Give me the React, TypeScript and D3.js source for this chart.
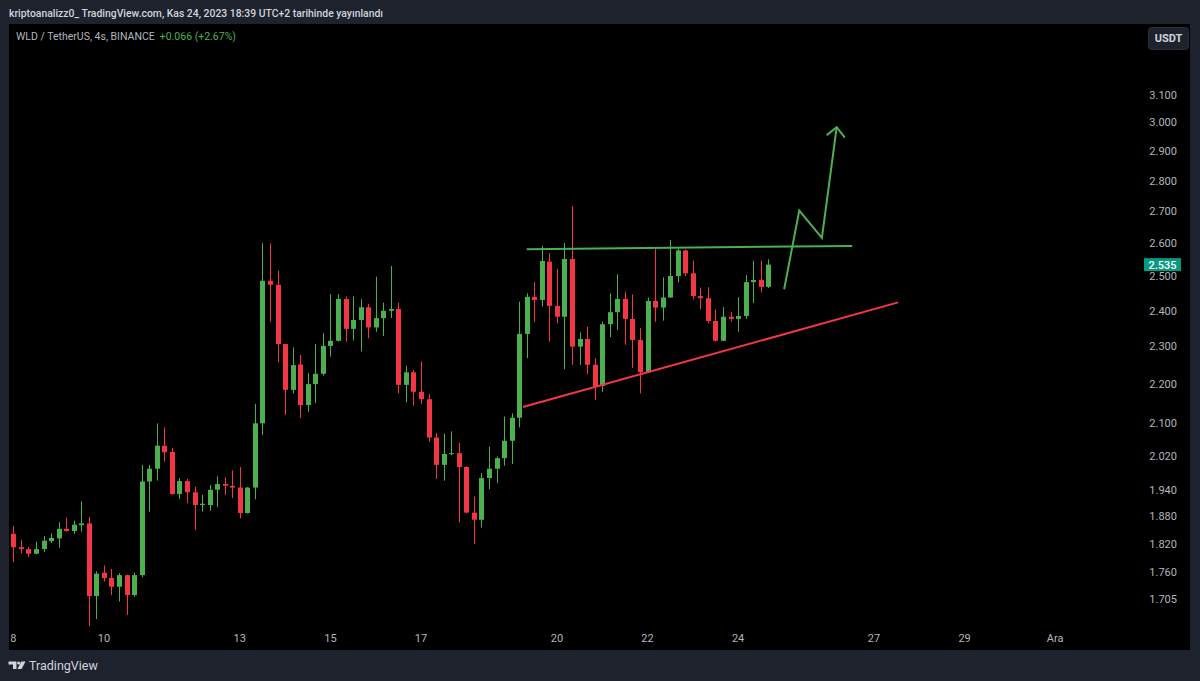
import React from "react";
import * as d3 from "d3";

// ---- Data (4h candles, WLD/USDT, starting 8 Nov 2023 00:00, chart time) ----
const OPEN = [
  1.842, 1.813, 1.809, 1.799, 1.809, 1.826, 1.832, 1.853, 1.848, 1.861,
  1.865, 1.711, 1.759, 1.748, 1.730, 1.754, 1.713, 1.754, 1.960, 1.990,
  2.045, 2.030, 1.931, 1.961, 1.935, 1.906, 1.906, 1.941, 1.954, 1.950,
  1.946, 1.888, 1.946, 2.100, 2.487, 2.475, 2.307, 2.185, 2.252, 2.146,
  2.200, 2.227, 2.302, 2.316, 2.434, 2.349, 2.374, 2.410, 2.353, 2.379,
  2.400, 2.405, 2.198, 2.231, 2.180, 2.161, 2.065, 1.999, 2.025, 2.027,
  1.994, 1.889, 1.873, 1.968, 1.990, 2.015, 2.057, 2.114, 2.335, 2.440,
  2.431, 2.544, 2.414, 2.383, 2.552, 2.300, 2.321, 2.251, 2.195, 2.362,
  2.396, 2.434, 2.377, 2.318, 2.231, 2.428, 2.409, 2.438, 2.501, 2.578,
  2.509, 2.442, 2.436, 2.371, 2.316, 2.383, 2.377, 2.385, 2.483, 2.489,
  2.469,
];
const HIGH = [
  1.859, 1.829, 1.814, 1.825, 1.837, 1.843, 1.868, 1.878, 1.871, 1.914,
  1.879, 1.762, 1.774, 1.767, 1.758, 1.755, 1.759, 1.999, 1.999, 2.100,
  2.090, 2.040, 1.968, 1.966, 1.948, 1.929, 1.952, 1.972, 1.970, 1.986,
  1.994, 1.947, 2.149, 2.600, 2.600, 2.517, 2.308, 2.298, 2.278, 2.229,
  2.307, 2.337, 2.448, 2.448, 2.441, 2.441, 2.433, 2.420, 2.499, 2.423,
  2.531, 2.423, 2.248, 2.237, 2.260, 2.174, 2.076, 2.074, 2.080, 2.052,
  1.996, 1.925, 1.980, 2.043, 2.019, 2.117, 2.125, 2.426, 2.450, 2.483,
  2.592, 2.570, 2.522, 2.601, 2.718, 2.339, 2.355, 2.269, 2.369, 2.450,
  2.506, 2.455, 2.447, 2.351, 2.438, 2.582, 2.497, 2.610, 2.584, 2.581,
  2.547, 2.467, 2.468, 2.404, 2.410, 2.397, 2.439, 2.504, 2.547, 2.547,
  2.551,
];
const LOW = [
  1.781, 1.800, 1.792, 1.798, 1.803, 1.822, 1.812, 1.847, 1.842, 1.847,
  1.651, 1.665, 1.741, 1.713, 1.700, 1.673, 1.710, 1.750, 1.891, 1.962,
  2.007, 1.930, 1.920, 1.910, 1.850, 1.891, 1.893, 1.901, 1.929, 1.922,
  1.876, 1.887, 1.919, 2.071, 2.369, 2.258, 2.121, 2.176, 2.113, 2.129,
  2.151, 2.222, 2.273, 2.314, 2.314, 2.317, 2.287, 2.323, 2.341, 2.329,
  2.379, 2.176, 2.153, 2.145, 2.149, 2.055, 1.966, 1.962, 2.022, 1.867,
  1.887, 1.820, 1.856, 1.942, 1.956, 1.997, 2.001, 2.090, 2.269, 2.369,
  2.412, 2.314, 2.365, 2.239, 2.251, 2.251, 2.226, 2.159, 2.180, 2.326,
  2.346, 2.305, 2.243, 2.176, 2.229, 2.369, 2.372, 2.437, 2.482, 2.501,
  2.433, 2.404, 2.365, 2.314, 2.315, 2.369, 2.341, 2.377, 2.422, 2.453,
  2.466,
];
const CLOSE = [
  1.813, 1.809, 1.799, 1.809, 1.827, 1.833, 1.853, 1.848, 1.862, 1.865,
  1.711, 1.757, 1.748, 1.730, 1.754, 1.713, 1.754, 1.960, 1.990, 2.045,
  2.029, 1.931, 1.961, 1.935, 1.906, 1.909, 1.941, 1.954, 1.950, 1.946,
  1.888, 1.946, 2.100, 2.487, 2.475, 2.307, 2.185, 2.250, 2.146, 2.200,
  2.227, 2.302, 2.316, 2.434, 2.349, 2.374, 2.410, 2.353, 2.379, 2.400,
  2.405, 2.198, 2.231, 2.180, 2.161, 2.065, 1.999, 2.025, 2.027, 1.994,
  1.889, 1.873, 1.968, 1.990, 2.015, 2.057, 2.114, 2.335, 2.440, 2.431,
  2.546, 2.414, 2.383, 2.552, 2.300, 2.321, 2.251, 2.195, 2.362, 2.396,
  2.434, 2.377, 2.318, 2.231, 2.428, 2.409, 2.438, 2.501, 2.578, 2.509,
  2.442, 2.436, 2.371, 2.316, 2.383, 2.377, 2.385, 2.483, 2.489, 2.469,
  2.535,
];

const START_MS = Date.UTC(2023, 10, 8, 0, 0);
const BAR_MS = 4 * 3600 * 1000;

const X_TICK_DATES = [
  "2023-11-08", "2023-11-10", "2023-11-13", "2023-11-15", "2023-11-17",
  "2023-11-20", "2023-11-22", "2023-11-24", "2023-11-27", "2023-11-29", "2023-12-01",
];
const X_TICK_LABELS = ["8", "10", "13", "15", "17", "20", "22", "24", "27", "29", "Ara"];
const Y_TICKS = [3.1, 3.0, 2.9, 2.8, 2.7, 2.6, 2.5, 2.4, 2.3, 2.2, 2.1, 2.02, 1.94, 1.88, 1.82, 1.76, 1.705];

const LAST_PRICE = 2.535;
const CHANGE_TEXT = "+0.066 (+2.67%)";

// drawings: [bar index, price]
const RESISTANCE: [number, number][] = [[68.0, 2.582], [111.1, 2.592]];
const SUPPORT: [number, number][] = [[67.5, 2.141], [117.2, 2.424]];
const PROJECTION: [number, number][] = [[102.1, 2.462], [104.1, 2.703], [107.1, 2.617], [109.06, 2.984]];
const ARROW_HEAD: [number, number][] = [[107.74, 2.956], [109.06, 2.984], [110.13, 2.947]];

const UP = "#4caf50";
const DOWN = "#f23645";
const AXIS_TEXT = "#b2b5be";
const FONT = "Roboto, 'Open Sans', sans-serif";

export default function App() {
  const W = 1200;
  const H = 681;
  const panel = { x: 9, y: 24, w: 1181, h: 626 };

  const barTime = (i: number) => new Date(START_MS + i * BAR_MS);
  const x = d3
    .scaleUtc()
    .domain([new Date(START_MS), new Date(Date.UTC(2023, 11, 1))])
    .range([13.3, 1055.2]);
  const y = d3.scaleLog().domain([1.705, 3.1]).range([599, 95]);

  const bx = (i: number) => x(barTime(i));
  const line = d3
    .line<[number, number]>()
    .x((d) => bx(d[0]))
    .y((d) => y(d[1]));

  const bodyW = 5;

  return (
    <svg width={W} height={H} style={{ display: "block", position: "absolute", left: 0, top: 0 }}>
      <rect x={0} y={0} width={W} height={H} fill="#1e222d" />
      <text x={9} y={17} fill="#d1d4dc" fontFamily={FONT} fontSize={11} fontWeight={500} textLength={374} lengthAdjust="spacingAndGlyphs">
        kriptoanalizz0_ TradingView.com, Kas 24, 2023 18:39 UTC+2 tarihinde yayınlandı
      </text>
      <rect x={panel.x} y={panel.y} width={panel.w} height={panel.h} fill="#000000" />
      <defs>
        <clipPath id="plotclip">
          <rect x={panel.x} y={panel.y} width={1135} height={panel.h - 22} />
        </clipPath>
      </defs>

      <g clipPath="url(#plotclip)">
        {CLOSE.map((c, i) => {
          const o = OPEN[i];
          const up = c >= o;
          const col = up ? UP : DOWN;
          const cx = Math.round(bx(i));
          const yTop = y(Math.max(o, c));
          const yBot = y(Math.min(o, c));
          return (
            <g key={i}>
              <line x1={cx + 0.5} x2={cx + 0.5} y1={y(HIGH[i])} y2={y(LOW[i])} stroke={col} strokeWidth={1} />
              <rect x={cx - 2} y={yTop} width={bodyW} height={Math.max(1, yBot - yTop)} fill={col} />
            </g>
          );
        })}
        <path d={line(RESISTANCE) || ""} fill="none" stroke={UP} strokeWidth={2} />
        <path d={line(SUPPORT) || ""} fill="none" stroke={DOWN} strokeWidth={2} />
        <path d={line(PROJECTION) || ""} fill="none" stroke={UP} strokeWidth={2} strokeLinejoin="miter" />
        <path d={line(ARROW_HEAD) || ""} fill="none" stroke={UP} strokeWidth={2} />
      </g>

      {/* legend */}
      <text x={16} y={39.5} fontFamily={FONT} fontSize={10.5} fill={AXIS_TEXT}>
        WLD / TetherUS, 4s, BINANCE
        <tspan dx={5} fill={UP}>{CHANGE_TEXT}</tspan>
      </text>

      {/* y axis labels */}
      {Y_TICKS.map((t) => (
        <text key={t} x={1177} y={y(t)} dy="0.35em" textAnchor="end" fontFamily={FONT} fontSize={11} fill={AXIS_TEXT}>
          {d3.format(".3f")(t)}
        </text>
      ))}
      {/* last price label */}
      <rect x={1144} y={y(LAST_PRICE) - 6.5} width={37} height={13} fill="#089981" />
      <text x={1162.5} y={y(LAST_PRICE)} dy="0.36em" textAnchor="middle" fontFamily={FONT} fontSize={11} fontWeight={500} fill="#ffffff">
        {d3.format(".3f")(LAST_PRICE)}
      </text>

      {/* x axis labels */}
      {X_TICK_DATES.map((d, i) => (
        <text key={d} x={x(new Date(d + "T00:00:00Z"))} y={638} dy="0.35em" textAnchor="middle" fontFamily={FONT} fontSize={11} fill={AXIS_TEXT}>
          {X_TICK_LABELS[i]}
        </text>
      ))}

      {/* currency button */}
      <rect x={1148.5} y={27.5} width={40} height={22} rx={3} fill="#1e222d" stroke="#2a2e39" />
      <text x={1168.5} y={38.5} dy="0.35em" textAnchor="middle" fontFamily={FONT} fontSize={11} fontWeight={700} fill="#d1d4dc">
        USDT
      </text>

      {/* footer logo */}
      <g fill="#d1d4dc">
        <path d="M8.5 661.5 H16.5 V669 H13 V664.5 H8.5 Z" />
        <circle cx={18.7} cy={663} r={1.6} />
        <path d="M21.3 661.5 H25.5 L21.5 669 H17.5 Z" />
      </g>
      <text x={29} y={665.5} dy="0.35em" fontFamily={FONT} fontSize={12.5} fill="#d1d4dc">
        TradingView
      </text>
    </svg>
  );
}
